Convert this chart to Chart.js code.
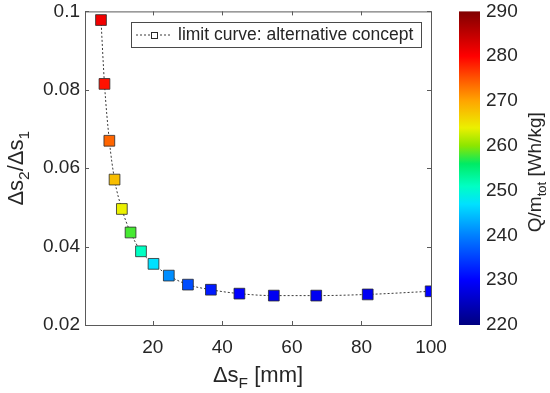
<!DOCTYPE html>
<html>
<head>
<meta charset="utf-8">
<script src="https://cdn.jsdelivr.net/npm/chart.js@4.4.0/dist/chart.umd.min.js"></script>
<style>
html, body { margin: 0; padding: 0; background: #fff; }
#wrap { width: 550px; height: 393px; }
</style>
</head>
<body>
<div id="wrap"><canvas id="limitChart" width="550" height="393"></canvas></div>
<script>
// values
const dsF = [5.1, 6.1, 7.5, 9.0, 11.1, 13.6, 16.6, 20.2, 24.6, 30.1, 36.7, 44.9, 54.8, 67.0, 81.8, 99.9];
const ratio = [0.0978, 0.0815, 0.0670, 0.0571, 0.0496, 0.0436, 0.0388, 0.0356, 0.0326, 0.0303, 0.0290, 0.0280, 0.0275, 0.0275, 0.0278, 0.0286];
const qSpec = [281, 279, 274, 268, 264, 258, 251, 247, 241, 236, 232, 230, 229, 229, 229, 230];
const xTicks = [20, 40, 60, 80, 100];
const yTicks = [0.02, 0.04, 0.06, 0.08, 0.1];
const qTicks = [220, 230, 240, 250, 260, 270, 280, 290];
const seriesLabel = 'limit curve: alternative concept';

// jet-like colour map used for the colour bar
const cmapStops = [
    [220, [0, 0, 128]],
    [230, [0, 0, 255]],
    [240, [0, 128, 255]],
    [247, [0, 225, 255]],
    [251, [0, 255, 195]],
    [256, [0, 235, 100]],
    [260, [140, 230, 0]],
    [264, [235, 240, 0]],
    [270, [255, 165, 0]],
    [275, [255, 85, 0]],
    [280, [255, 0, 0]],
    [290, [128, 0, 0]]
];
const FONT = "'Liberation Sans', Arial, sans-serif";
const TXT = '#262626';

function cmap(q) {
    for (let i = 1; i < cmapStops.length; i++) {
        const [q0, c0] = cmapStops[i - 1];
        const [q1, c1] = cmapStops[i];
        if (q <= q1) {
            const t = Math.max(0, (q - q0) / (q1 - q0));
            const c = c0.map((v, k) => Math.round(v + (c1[k] - v) * t));
            return `rgb(${c[0]},${c[1]},${c[2]})`;
        }
    }
    const c = cmapStops[cmapStops.length - 1][1];
    return `rgb(${c[0]},${c[1]},${c[2]})`;
}

// text with subscripts: runs = [[text, isSub], ...], centred on (0,0)
function drawRuns(ctx, runs, size, subSize, subDrop) {
    let w = 0;
    runs.forEach(([t, sub]) => {
        ctx.font = `${sub ? subSize : size}px ${FONT}`;
        w += ctx.measureText(t).width;
    });
    let x = -w / 2;
    ctx.textBaseline = 'alphabetic';
    ctx.textAlign = 'left';
    runs.forEach(([t, sub]) => {
        ctx.font = `${sub ? subSize : size}px ${FONT}`;
        ctx.fillText(t, x, sub ? subDrop : 0);
        x += ctx.measureText(t).width;
    });
}

const framePlugin = {
    id: 'frame',
    beforeDatasetsDraw(chart) {
        const ctx = chart.ctx;
        const a = chart.chartArea;
        const xs = chart.scales.x, ys = chart.scales.y, qs = chart.scales.q;
        ctx.save();
        ctx.strokeStyle = '#5a5a5a';
        ctx.lineWidth = 1;
        ctx.strokeRect(a.left + 0.5, a.top + 0.5, a.right - a.left, a.bottom - a.top);
        ctx.beginPath();
        xTicks.forEach(v => {
            const px = Math.round(xs.getPixelForValue(v)) + 0.5;
            ctx.moveTo(px, a.bottom); ctx.lineTo(px, a.bottom - 4);
            ctx.moveTo(px, a.top); ctx.lineTo(px, a.top + 4);
        });
        yTicks.forEach(v => {
            const py = Math.round(ys.getPixelForValue(v)) + 0.5;
            ctx.moveTo(a.left, py); ctx.lineTo(a.left + 4, py);
            ctx.moveTo(a.right, py); ctx.lineTo(a.right - 4, py);
        });
        ctx.stroke();

        // colour bar
        const top = qs.getPixelForValue(290), bot = qs.getPixelForValue(220);
        const grad = ctx.createLinearGradient(0, bot, 0, top);
        cmapStops.forEach(([q, c]) => {
            grad.addColorStop((q - 220) / 70, `rgb(${c[0]},${c[1]},${c[2]})`);
        });
        ctx.fillStyle = grad;
        ctx.fillRect(459, top, 21, bot - top);

        // axis titles
        ctx.fillStyle = TXT;
        ctx.save();
        ctx.translate((a.left + a.right) / 2, 382);
        drawRuns(ctx, [['\u0394s', false], ['F', true], [' [mm]', false]], 22, 15.5, 6);
        ctx.restore();

        ctx.save();
        ctx.translate(23, (a.top + a.bottom) / 2);
        ctx.rotate(-Math.PI / 2);
        drawRuns(ctx, [['\u0394s', false], ['2', true], ['/\u0394s', false], ['1', true]], 22, 15.5, 6);
        ctx.restore();

        ctx.save();
        ctx.translate(541, (a.top + a.bottom) / 2 + 4);
        ctx.rotate(-Math.PI / 2);
        drawRuns(ctx, [['Q/m', false], ['tot', true], [' [Wh/kg]', false]], 19, 13, 5);
        ctx.restore();
        ctx.restore();
    },
    afterDraw(chart) {
        // legend box inside the axes
        const ctx = chart.ctx;
        const ds = chart.data.datasets[0];
        ctx.save();
        ctx.fillStyle = '#fff';
        ctx.fillRect(131, 22, 290, 25);
        ctx.strokeStyle = '#4a4a4a';
        ctx.lineWidth = 1;
        ctx.strokeRect(131.5, 22.5, 290, 25);
        ctx.strokeStyle = '#3a3a3a';
        ctx.setLineDash([2, 2]);
        ctx.beginPath();
        ctx.moveTo(136, 35); ctx.lineTo(172, 35);
        ctx.stroke();
        ctx.setLineDash([]);
        ctx.fillStyle = '#fff';
        ctx.fillRect(151, 32, 6, 6);
        ctx.strokeStyle = '#2a2a2a';
        ctx.strokeRect(151.5, 32.5, 6, 6);
        ctx.fillStyle = TXT;
        ctx.font = `17.5px ${FONT}`;
        ctx.textBaseline = 'middle';
        ctx.fillText(ds.label, 178, 35.5);
        ctx.restore();
    }
};

const tickFont = { family: FONT, size: 19 };

new Chart(document.getElementById('limitChart'), {
    type: 'line',
    data: {
        datasets: [{
            label: seriesLabel,
            data: dsF.map((x, i) => ({ x: x, y: ratio[i] })),
            borderColor: '#3a3a3a',
            borderWidth: 1,
            borderDash: [2, 2],
            cubicInterpolationMode: 'monotone',
            pointStyle: 'rect',
            pointRadius: 7.6,
            pointBackgroundColor: qSpec.map(q => cmap(q)),
            pointBorderColor: '#2a2a2a',
            pointBorderWidth: 0.8
        }]
    },
    options: {
        responsive: false,
        animation: false,
        layout: { padding: { top: 11, left: 0, right: 0, bottom: 0 } },
        plugins: { legend: { display: false }, tooltip: { enabled: false } },
        scales: {
            x: {
                type: 'linear', position: 'bottom', min: 0.5, max: 100,
                afterBuildTicks: s => { s.ticks = xTicks.map(v => ({ value: v })); },
                afterFit: s => { s.height = 68; },
                grid: { display: false, drawTicks: true, tickLength: 11 },
                border: { display: false },
                ticks: { padding: 0, color: TXT, font: tickFont, maxRotation: 0 }
            },
            y: {
                type: 'linear', position: 'left', min: 0.02, max: 0.1,
                afterBuildTicks: s => { s.ticks = yTicks.map(v => ({ value: v })); },
                afterFit: s => { s.width = 85; },
                grid: { display: false, drawTicks: true, tickLength: 5 },
                border: { display: false },
                ticks: { padding: 0, color: TXT, font: tickFont, callback: v => String(+v.toFixed(2)) }
            },
            q: {
                type: 'linear', position: 'right', min: 220, max: 290,
                afterBuildTicks: s => { s.ticks = qTicks.map(v => ({ value: v })); },
                afterFit: s => { s.width = 119; },
                grid: { display: false, drawTicks: true, tickLength: 55 },
                border: { display: false },
                ticks: { padding: 0, color: TXT, font: tickFont }
            }
        }
    },
    plugins: [framePlugin]
});
</script>
</body>
</html>
